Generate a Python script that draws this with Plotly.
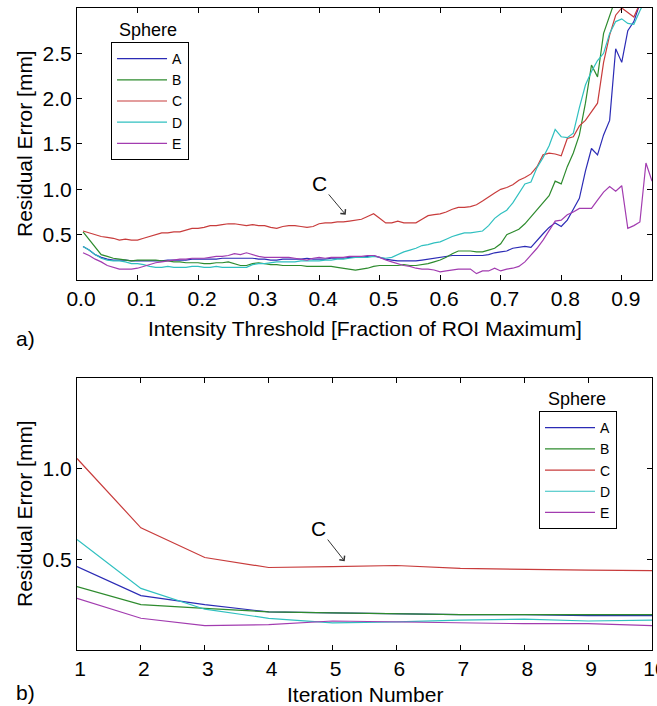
import plotly.graph_objects as go

# Panel a): residual error vs intensity threshold
thresholds = [round(0.01 * i, 2) for i in range(1, 96)]

err_a = [0.37, 0.33, 0.28, 0.25, 0.23, 0.22, 0.22, 0.22, 0.21, 0.21,
         0.21, 0.21, 0.21, 0.21, 0.22, 0.22, 0.22, 0.22, 0.23, 0.23,
         0.23, 0.23, 0.23, 0.24, 0.24, 0.24, 0.24, 0.24, 0.24, 0.23,
         0.23, 0.22, 0.22, 0.23, 0.23, 0.23, 0.23, 0.24, 0.23, 0.23,
         0.23, 0.24, 0.24, 0.24, 0.25, 0.25, 0.25, 0.26, 0.27, 0.25,
         0.23, 0.22, 0.21, 0.21, 0.21, 0.21, 0.22, 0.23, 0.24, 0.25,
         0.26, 0.27, 0.27, 0.27, 0.27, 0.27, 0.27, 0.28, 0.30, 0.31,
         0.32, 0.35, 0.36, 0.37, 0.36, 0.44, 0.51, 0.58, 0.63, 0.59,
         0.66, 0.78, 0.90, 1.20, 1.45, 1.38, 1.60, 1.76, 2.55, 2.40,
         2.75, 2.85, 3.05, 3.20, 3.35]
err_b = [0.53, 0.45, 0.36, 0.28, 0.26, 0.24, 0.23, 0.22, 0.21, 0.22,
         0.22, 0.22, 0.22, 0.21, 0.21, 0.20, 0.20, 0.19, 0.19, 0.19,
         0.18, 0.18, 0.19, 0.19, 0.20, 0.18, 0.16, 0.16, 0.18, 0.19,
         0.18, 0.17, 0.17, 0.16, 0.16, 0.16, 0.16, 0.15, 0.15, 0.15,
         0.15, 0.15, 0.14, 0.13, 0.12, 0.11, 0.12, 0.13, 0.15, 0.16,
         0.16, 0.16, 0.16, 0.17, 0.16, 0.16, 0.17, 0.18, 0.20, 0.22,
         0.25, 0.29, 0.32, 0.32, 0.32, 0.31, 0.31, 0.33, 0.35, 0.40,
         0.50, 0.53, 0.56, 0.62, 0.70, 0.78, 0.85, 0.93, 1.09, 1.06,
         1.25, 1.40, 1.60, 1.95, 2.37, 2.24, 2.72, 2.90, 3.10, 3.30,
         3.40, 3.50, 3.60, 3.70, 3.80]
err_c = [0.54, 0.52, 0.50, 0.48, 0.47, 0.46, 0.44, 0.45, 0.44, 0.44,
         0.46, 0.48, 0.50, 0.52, 0.52, 0.53, 0.53, 0.55, 0.57, 0.57,
         0.58, 0.60, 0.60, 0.61, 0.62, 0.62, 0.61, 0.60, 0.61, 0.60,
         0.60, 0.58, 0.57, 0.59, 0.60, 0.60, 0.59, 0.58, 0.59, 0.62,
         0.63, 0.63, 0.64, 0.64, 0.65, 0.66, 0.67, 0.70, 0.73, 0.68,
         0.63, 0.63, 0.65, 0.63, 0.63, 0.63, 0.67, 0.71, 0.72, 0.73,
         0.75, 0.78, 0.80, 0.80, 0.81, 0.83, 0.87, 0.92, 0.96, 1.00,
         1.02, 1.05, 1.10, 1.13, 1.17, 1.25, 1.38, 1.40, 1.39, 1.37,
         1.56, 1.58, 1.70, 1.76, 1.86, 1.95, 2.40, 2.70, 2.92, 3.00,
         2.95, 2.90, 3.05, 3.20, 3.40]
err_d = [0.37, 0.33, 0.28, 0.24, 0.22, 0.21, 0.21, 0.20, 0.18, 0.18,
         0.17, 0.15, 0.14, 0.14, 0.15, 0.14, 0.14, 0.14, 0.15, 0.15,
         0.14, 0.14, 0.15, 0.14, 0.14, 0.14, 0.14, 0.14, 0.17, 0.18,
         0.18, 0.19, 0.20, 0.20, 0.20, 0.20, 0.21, 0.21, 0.21, 0.21,
         0.22, 0.22, 0.23, 0.23, 0.24, 0.25, 0.25, 0.25, 0.26, 0.25,
         0.24, 0.25, 0.28, 0.31, 0.33, 0.35, 0.38, 0.39, 0.41, 0.42,
         0.45, 0.48, 0.50, 0.52, 0.52, 0.53, 0.54, 0.60, 0.68, 0.73,
         0.77, 0.85, 0.95, 1.06, 1.08, 1.24, 1.35, 1.48, 1.66, 1.58,
         1.57, 1.62, 1.90, 2.15, 2.30, 2.42, 2.50, 2.72, 2.85, 2.88,
         2.83, 2.82, 2.97, 3.10, 3.30]
err_e = [0.30, 0.27, 0.23, 0.20, 0.16, 0.14, 0.12, 0.12, 0.12, 0.13,
         0.15, 0.17, 0.19, 0.20, 0.21, 0.22, 0.23, 0.23, 0.24, 0.24,
         0.24, 0.25, 0.26, 0.26, 0.27, 0.29, 0.28, 0.30, 0.28, 0.26,
         0.25, 0.25, 0.25, 0.25, 0.25, 0.24, 0.23, 0.22, 0.24, 0.25,
         0.24, 0.25, 0.25, 0.25, 0.26, 0.26, 0.26, 0.27, 0.27, 0.25,
         0.22, 0.20, 0.18, 0.16, 0.15, 0.13, 0.12, 0.12, 0.11, 0.09,
         0.10, 0.11, 0.12, 0.12, 0.12, 0.07, 0.10, 0.10, 0.13, 0.10,
         0.12, 0.13, 0.15, 0.20, 0.27, 0.35, 0.44, 0.55, 0.65, 0.66,
         0.72, 0.75, 0.79, 0.79, 0.79, 0.88, 0.97, 1.03, 0.98, 1.04,
         0.57, 0.60, 0.64, 1.29, 1.09]

# Panel b): residual error vs iteration number
iterations = [1, 2, 3, 4, 5, 6, 7, 8, 9, 10]
iter_a = [0.46, 0.30, 0.25, 0.21, 0.205, 0.20, 0.195, 0.195, 0.19, 0.19]
iter_b = [0.35, 0.25, 0.23, 0.21, 0.205, 0.20, 0.195, 0.195, 0.195, 0.195]
iter_c = [1.056, 0.674, 0.51, 0.455, 0.46, 0.466, 0.45, 0.444, 0.44, 0.438]
iter_d = [0.61, 0.34, 0.225, 0.175, 0.15, 0.155, 0.165, 0.17, 0.16, 0.165]
iter_e = [0.285, 0.175, 0.135, 0.14, 0.16, 0.155, 0.15, 0.145, 0.145, 0.135]

spheres = ["A", "B", "C", "D", "E"]
colors = ["#2b2bb5", "#2e8b2e", "#c83c3c", "#30c0c0", "#a23cb0"]

FONT = "Arial, Liberation Sans, sans-serif"

fig = go.Figure()

for name, ys, col in zip(spheres, [err_a, err_b, err_c, err_d, err_e], colors):
    fig.add_trace(go.Scatter(x=thresholds, y=ys, mode="lines", name=name,
                             line=dict(color=col, width=1.2),
                             xaxis="x", yaxis="y", legend="legend"))

for name, ys, col in zip(spheres, [iter_a, iter_b, iter_c, iter_d, iter_e], colors):
    fig.add_trace(go.Scatter(x=iterations, y=ys, mode="lines", name=name,
                             line=dict(color=col, width=1.2),
                             xaxis="x2", yaxis="y2", legend="legend2"))

axis_style = dict(showline=True, linecolor="black", linewidth=1, mirror="ticks",
                  ticks="inside", ticklen=5, tickcolor="black", showgrid=False,
                  zeroline=False, automargin=False, ticklabeloverflow="allow",
                  tickfont=dict(family=FONT, size=21, color="black"))

legend_style = dict(bordercolor="black", borderwidth=1, bgcolor="white",
                    font=dict(family=FONT, size=14, color="black"),
                    xanchor="left", yanchor="top", itemwidth=50)

fig.update_layout(
    width=657, height=706,
    margin=dict(l=0, r=0, t=0, b=0, autoexpand=False),
    paper_bgcolor="white", plot_bgcolor="white",
    xaxis=dict(domain=[0.1172, 0.9924], range=[0, 0.95], anchor="y",
               tickvals=[0, 0.1, 0.2, 0.3, 0.4, 0.5, 0.6, 0.7, 0.8, 0.9],
               tickformat=".1f", ticklabelshift=4, **axis_style),
    yaxis=dict(domain=[0.6034, 0.9887], range=[0, 3], anchor="x",
               tickvals=[0.5, 1.0, 1.5, 2.0, 2.5], tickformat=".1f", **axis_style),
    xaxis2=dict(domain=[0.1172, 0.9924], range=[1, 10], anchor="y2",
                tickvals=iterations, ticklabelshift=3, **axis_style),
    yaxis2=dict(domain=[0.0793, 0.4646], range=[0, 1.5], anchor="x2",
                tickvals=[0.5, 1.0], tickformat=".1f", **axis_style),
    legend=dict(x=0.169, y=0.9405, **legend_style),
    legend2=dict(x=0.8204, y=0.4178, **legend_style),
)

text_font = dict(family=FONT, size=21, color="black")
notes = [
    dict(text="Intensity Threshold [Fraction of ROI Maximum]", x=0.555, y=1 - 328 / 706),
    dict(text="Iteration Number", x=0.555, y=1 - 694 / 706),
    dict(text="Residual Error [mm]", x=24 / 657, y=1 - 144 / 706, textangle=-90),
    dict(text="Residual Error [mm]", x=24 / 657, y=1 - 514 / 706, textangle=-90),
    dict(text="a)", x=25 / 657, y=1 - 338 / 706),
    dict(text="b)", x=25 / 657, y=1 - 692 / 706),
]
for n in notes:
    fig.add_annotation(xref="paper", yref="paper", showarrow=False,
                       xanchor="center", yanchor="middle", font=text_font, **n)

for n in [dict(x=0.2253, y=1 - 30 / 706), dict(x=0.878, y=1 - 399 / 706)]:
    fig.add_annotation(text="Sphere", xref="paper", yref="paper", showarrow=False,
                       xanchor="center", yanchor="middle",
                       font=dict(family=FONT, size=18, color="black"), **n)

# "C" callouts with arrows
fig.add_annotation(text="C", x=0.444, y=0.72, xref="x", yref="y",
                   ax=-26, ay=-31, showarrow=True, arrowhead=4, arrowsize=1.3,
                   arrowwidth=1, arrowcolor="#333333", standoff=0,
                   font=dict(family=FONT, size=21, color="black"))
fig.add_annotation(text="C", x=5.19, y=0.49, xref="x2", yref="y2",
                   ax=-26, ay=-33, showarrow=True, arrowhead=4, arrowsize=1.3,
                   arrowwidth=1, arrowcolor="#333333", standoff=0,
                   font=dict(family=FONT, size=21, color="black"))

fig.write_html("out.html", config={"displayModeBar": False},
               post_script="document.body.style.margin='0px';")
